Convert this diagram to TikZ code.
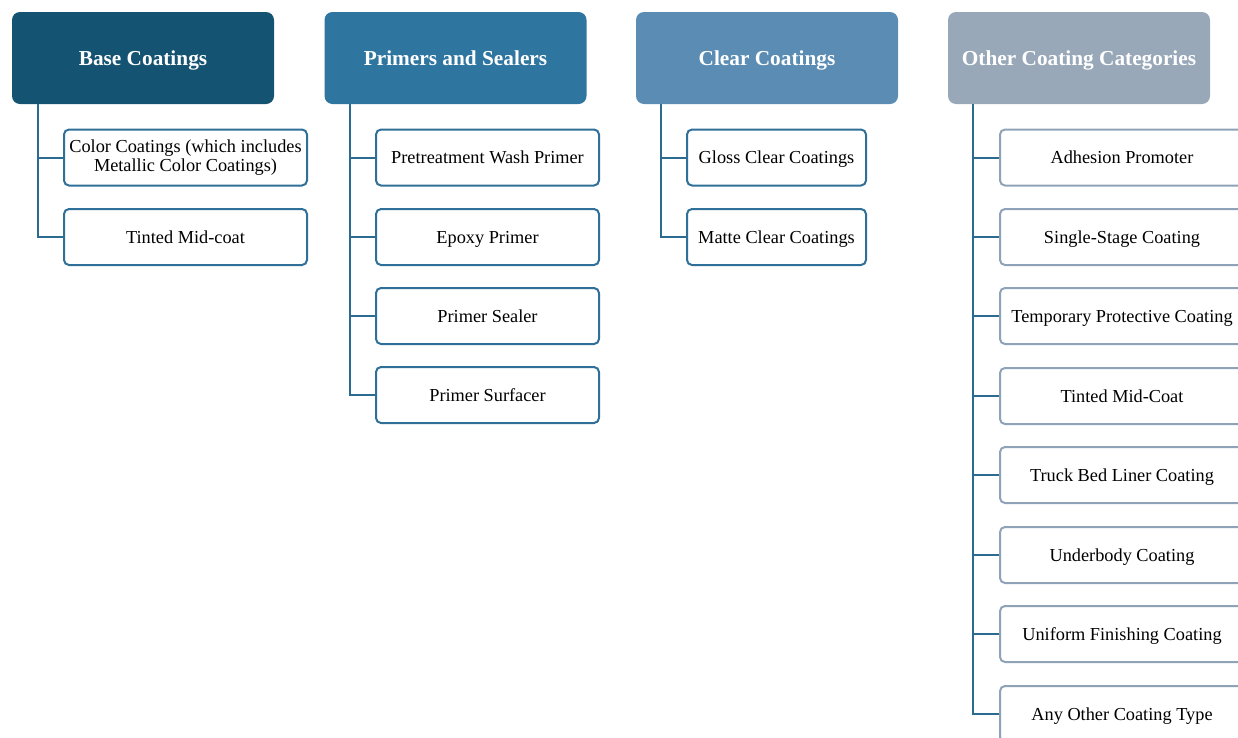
\documentclass[tikz,border=0pt]{standalone}
\usepackage{fontspec}
\setmainfont{Liberation Serif}
\definecolor{cBase}{HTML}{145472}
\definecolor{cPrim}{HTML}{2E75A0}
\definecolor{cClear}{HTML}{5B8DB4}
\definecolor{cOther}{HTML}{98A8B8}
\definecolor{cLine}{HTML}{2C6B91}
\definecolor{cEdge}{HTML}{2F6F98}
\definecolor{cEdgeB}{HTML}{8FA3B8}
\tikzset{
  hdr/.style={rounded corners=8pt, minimum width=262pt, minimum height=92pt, inner sep=0pt,
    text height=17pt, text depth=2pt,
    text=white, font=\fontsize{21.3}{25}\selectfont\bfseries},
  kid/.style={draw=cEdge, line width=2pt, rounded corners=5pt, fill=white, inner sep=0pt,
    minimum height=56pt, text height=13pt, text depth=1pt, font=\fontsize{18.3}{19.5}\selectfont},
  kidB/.style={kid, draw=cEdgeB},
  kidtwo/.style={draw=cEdge, line width=2pt, rounded corners=5pt, fill=white, inner sep=0pt,
    minimum height=56pt, align=center, font=\fontsize{18.3}{19.5}\selectfont},
  conn/.style={draw=cLine, line width=2pt}
}
\begin{document}
\begin{tikzpicture}[x=1pt, y=-1pt]
\useasboundingbox (0,0) rectangle (1238,737);
\clip (0,0) rectangle (1238,737);
% headers
\node[hdr, fill=cBase]  (h1) at (143,58)   {Base Coatings};
\node[hdr, fill=cPrim]  (h2) at (455.5,58) {Primers and Sealers};
\node[hdr, fill=cClear] (h3) at (767,58)   {Clear Coatings};
\node[hdr, fill=cOther] (h4) at (1079,58)  {Other Coating Categories};
% trunk tops
\coordinate (t1) at (38,104);
\coordinate (t2) at (350,104);
\coordinate (t3) at (661,104);
\coordinate (t4) at (973,104);
% base
\node[kidtwo, minimum width=243pt] (a1) at (185.5,157.5) {Color Coatings (which includes\\Metallic Color Coatings)};
\node[kid, minimum width=243pt] (a2) at (185.5,237) {Tinted Mid-coat};
% primers
\node[kid, minimum width=223pt] (b1) at (487.5,157.5) {Pretreatment Wash Primer};
\node[kid, minimum width=223pt] (b2) at (487.5,237) {Epoxy Primer};
\node[kid, minimum width=223pt] (b3) at (487.5,316) {Primer Sealer};
\node[kid, minimum width=223pt] (b4) at (487.5,395) {Primer Surfacer};
% clear
\node[kid, minimum width=179pt] (c1) at (776.5,157.5) {Gloss Clear Coatings};
\node[kid, minimum width=179pt] (c2) at (776.5,237) {Matte Clear Coatings};
% other
\node[kidB, minimum width=244pt] (d1) at (1122,157.5) {Adhesion Promoter};
\node[kidB, minimum width=244pt] (d2) at (1122,237) {Single-Stage Coating};
\node[kidB, minimum width=244pt] (d3) at (1122,316) {Temporary Protective Coating};
\node[kidB, minimum width=244pt] (d4) at (1122,396) {Tinted Mid-Coat};
\node[kidB, minimum width=244pt] (d5) at (1122,475) {Truck Bed Liner Coating};
\node[kidB, minimum width=244pt] (d6) at (1122,555) {Underbody Coating};
\node[kidB, minimum width=244pt] (d7) at (1122,634) {Uniform Finishing Coating};
\node[kidB, minimum width=244pt] (d8) at (1122,714) {Any Other Coating Type};
% connectors
\draw[conn] (t1) |- (a2.west);
\draw[conn] (t1 |- a1.west) -- (a1.west);
\draw[conn] (t2) |- (b4.west);
\foreach \n in {b1,b2,b3} \draw[conn] (t2 |- \n.west) -- (\n.west);
\draw[conn] (t3) |- (c2.west);
\draw[conn] (t3 |- c1.west) -- (c1.west);
\draw[conn] (t4) |- (d8.west);
\foreach \n in {d1,d2,d3,d4,d5,d6,d7} \draw[conn] (t4 |- \n.west) -- (\n.west);
\end{tikzpicture}
\end{document}
